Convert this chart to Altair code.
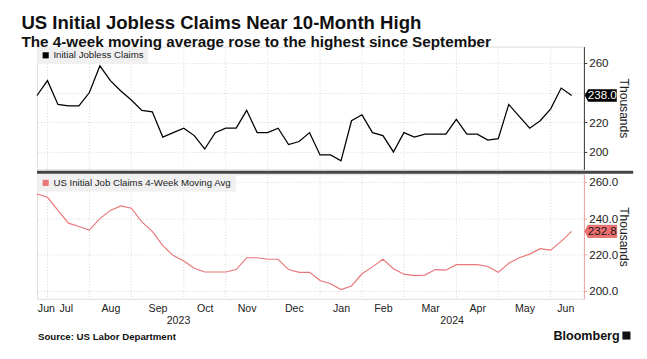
import json
import altair as alt
import pandas as pd

# ---- data (weekly, Jun 2023 - Jun 2024, thousands) ----
claims = [238, 248, 232, 231, 231, 240, 258, 248, 241, 235, 228, 227, 210, 213,
          216, 211, 202, 213, 216, 216, 228, 213, 213, 216, 205, 207, 213, 198,
          198, 194, 221, 225, 213, 211, 200, 213, 210, 212, 212, 212, 222, 212,
          212, 208, 209, 232, 224, 216, 221, 229, 243, 238]
mavg = [253.3, 251.5, 244.3, 237.3, 235.5, 233.5, 239.8, 244.3, 246.8, 245.5,
        238.0, 232.8, 225.0, 219.5, 216.5, 212.5, 210.5, 210.5, 210.5, 211.8,
        218.3, 218.3, 217.5, 217.5, 211.8, 210.3, 210.3, 205.8, 204.0, 200.8,
        202.8, 209.5, 213.3, 217.5, 212.3, 209.3, 208.5, 208.8, 211.8, 211.5,
        214.5, 214.5, 214.5, 213.5, 210.3, 215.3, 218.3, 220.3, 223.3, 222.5,
        227.3, 232.8]
grid_idx = [1, 5, 9, 14, 18, 22, 27, 31, 35, 40, 44, 49]          # first week of each month
month_names = ["Jun", "Jul", "Aug", "Sep", "Oct", "Nov", "Dec",
               "Jan", "Feb", "Mar", "Apr", "May", "Jun"]
month_pos = [0.85, 2.75, 7, 11.5, 16, 20, 24.5, 29, 33, 37.5, 42, 46.5, 50.4]
years = ["2023", "2024"]
year_pos = [13.5, 39.6]
top_name = "Initial Jobless Claims"
bot_name = "US Initial Job Claims 4-Week Moving Avg"

W, H1, H2 = 566, 127, 129
FONT = "Liberation Sans"
RED = "#e8777a"
RED_BADGE = "#f07070"

df_top = pd.DataFrame({"idx": list(range(len(claims))), "v": claims, "series": top_name})
df_bot = pd.DataFrame({"idx": list(range(len(mavg))), "v": mavg, "series": bot_name})
df_grid = pd.DataFrame({"idx": grid_idx})
df_years = pd.DataFrame({"idx": year_pos, "label": years})
df_last_top = df_top.tail(1)
df_last_bot = df_bot.tail(1)
df_one = pd.DataFrame({"a": [0]})

xs = alt.Scale(domain=[0, 52.17], nice=False, zero=False)
badge = "M-1,0 L-0.8,-0.385 L1,-0.385 L1,0.385 L-0.8,0.385 Z"

# ---------------- top panel ----------------
y_top = alt.Y("v:Q", scale=alt.Scale(domain=[188.3, 270.9], nice=False, zero=False),
              axis=alt.Axis(orient="right", values=[200, 220, 240, 260], format="d",
                            labelExpr="datum.value == 240 ? '' : datum.label",
                            title="Thousands", tickSize=3, tickColor="#333",
                            domainColor="#333", labelPadding=2, labelFontSize=12,
                            labelColor="#222", grid=True, gridDash=[1, 2],
                            gridColor="#d4d4d4", titleFontSize=12.5,
                            titleFontWeight="normal", titleColor="#222",
                            titleX=41, titleY=H1 / 2, titleAngle=90,
                            titleAlign="center", titleBaseline="middle"))
x_top = alt.X("idx:Q", scale=xs, axis=None)

t_grid = alt.Chart(df_grid).mark_rule(color="#d4d4d4", strokeDash=[1, 2], strokeWidth=1).encode(x=x_top)
t_line = alt.Chart(df_top).mark_line(color="black", strokeWidth=1.3).encode(
    x=x_top, y=y_top,
    color=alt.Color("series:N", scale=alt.Scale(domain=[top_name], range=["black"]),
                    legend=alt.Legend(title=None, orient="top-left", offset=0,
                                      fillColor="#f0f0f0", padding=4,
                                      symbolType="square", symbolSize=40,
                                      symbolFillColor="black", symbolStrokeWidth=0,
                                      labelFont=FONT, labelFontSize=10, labelLimit=400,
                                      labelColor="#222", labelOffset=3)))
t_sep = alt.Chart(df_one).mark_rule(color="#444", strokeWidth=3).encode(
    x=alt.value(0), x2=alt.value(W + 51), y=alt.value(H1 + 3))
t_badge = alt.Chart(df_last_top).mark_point(shape=badge, size=1089, filled=True,
                                            fill="black", opacity=1).encode(
    x=alt.value(W + 17.5), y=y_top)
t_badge_txt = alt.Chart(df_last_top).mark_text(color="white", fontSize=12, font=FONT,
                                               align="center", baseline="middle").encode(
    x=alt.value(W + 19), y=y_top, text=alt.Text("v:Q", format=".1f"))

top = alt.layer(t_grid, t_line, t_sep, t_badge, t_badge_txt).properties(width=W, height=H1)

# ---------------- bottom panel ----------------
label_expr = f"{json.dumps(month_names)}[indexof({json.dumps(month_pos)}, datum.value)]"
x_bot = alt.X("idx:Q", scale=xs, title=None,
              axis=alt.Axis(values=month_pos, labelExpr=label_expr, grid=False,
                            ticks=False, domain=False, labelFontSize=11,
                            labelFont=FONT, labelColor="#222", labelPadding=4,
                            labelFlush=False, labelOverlap=False))
y_bot = alt.Y("v:Q", scale=alt.Scale(domain=[195.75, 264.2], nice=False, zero=False),
              axis=alt.Axis(orient="right", values=[200, 220, 240, 260], format=".1f",
                            title="Thousands", tickSize=3, tickColor="#f0a0a0",
                            domainColor="#f0a0a0", labelPadding=2, labelFontSize=12,
                            labelColor="#222", grid=True, gridDash=[1, 2],
                            gridColor="#d4d4d4", titleFontSize=12.5,
                            titleFontWeight="normal", titleColor="#222",
                            titleX=41, titleY=H2 / 2, titleAngle=90,
                            titleAlign="center", titleBaseline="middle"))

b_grid = alt.Chart(df_grid).mark_rule(color="#d4d4d4", strokeDash=[1, 2], strokeWidth=1).encode(x=x_bot)
b_line = alt.Chart(df_bot).mark_line(color=RED, strokeWidth=1.2).encode(
    x=x_bot, y=y_bot,
    color=alt.Color("series:N", scale=alt.Scale(domain=[bot_name], range=[RED]),
                    legend=alt.Legend(title=None, orient="top-left", offset=0,
                                      fillColor="#f0f0f0", padding=4,
                                      symbolType="square", symbolSize=40,
                                      symbolFillColor=RED, symbolStrokeWidth=0,
                                      labelFont=FONT, labelFontSize=10, labelLimit=400,
                                      labelColor="#222", labelOffset=3)))
b_badge = alt.Chart(df_last_bot).mark_point(shape=badge, size=1089, filled=True,
                                            fill=RED_BADGE, stroke="#c85050",
                                            strokeWidth=0.6, opacity=1).encode(
    x=alt.value(W + 17.5), y=y_bot)
b_badge_txt = alt.Chart(df_last_bot).mark_text(color="#1a1a1a", fontSize=12, font=FONT,
                                               align="center", baseline="middle").encode(
    x=alt.value(W + 19), y=y_bot, text=alt.Text("v:Q", format=".1f"))
b_years = alt.Chart(df_years).mark_text(fontSize=11, font=FONT, color="#222",
                                        baseline="middle").encode(
    x=x_bot, y=alt.value(H2 + 23), text="label:N")
b_source = alt.Chart(df_one).mark_text(text="Source: US Labor Department", fontSize=10,
                                       fontWeight="bold", font=FONT, color="#111",
                                       align="left", baseline="middle").encode(
    x=alt.value(1), y=alt.value(H2 + 40))
b_bbg = alt.Chart(df_one).mark_text(text="Bloomberg", fontSize=13, fontWeight="bold",
                                    font=FONT, color="#111", align="right",
                                    baseline="middle").encode(
    x=alt.value(W + 37), y=alt.value(H2 + 39))
b_icon = alt.Chart(df_one).mark_point(shape="square", size=70, filled=True,
                                      color="#111", opacity=1).encode(
    x=alt.value(W + 44), y=alt.value(H2 + 38))

bottom = alt.layer(b_grid, b_line, b_badge, b_badge_txt, b_years, b_source,
                   b_bbg, b_icon).properties(width=W, height=H2)

chart = (
    alt.vconcat(top, bottom, spacing=5, bounds="flush")
    .resolve_scale(y="independent", color="independent")
    .resolve_axis(y="independent")
    .resolve_legend(color="independent")
    .properties(
        title=alt.TitleParams(
            text="US Initial Jobless Claims Near 10-Month High",
            subtitle="The 4-week moving average rose to the highest since September",
            anchor="start", dx=-13, fontSize=19.2, fontWeight="bold", font=FONT,
            color="#111", subtitleFontSize=15.8, subtitleFontWeight="bold",
            subtitleFont=FONT, subtitleColor="#111", subtitlePadding=2, offset=-3.8),
        padding={"left": 13, "top": 0, "right": 4, "bottom": 0},
    )
    .configure_view(stroke=None)
    .configure(font=FONT)
)

chart.save("out.html", embed_options={"renderer": "svg", "actions": False})
